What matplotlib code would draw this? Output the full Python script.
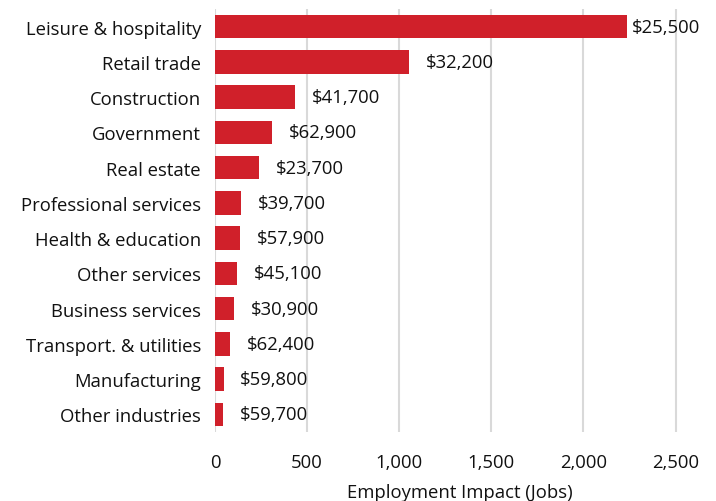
import matplotlib
matplotlib.use('Agg')
import matplotlib.pyplot as plt
from matplotlib.ticker import FuncFormatter

plt.rcParams['font.family'] = ['Open Sans', 'DejaVu Sans']

# Data
industries = ['Leisure & hospitality', 'Retail trade', 'Construction', 'Government',
              'Real estate', 'Professional services', 'Health & education',
              'Other services', 'Business services', 'Transport. & utilities',
              'Manufacturing', 'Other industries']
jobs = [2234, 1052, 435, 312, 241, 143, 138, 118, 103, 83, 47, 43]
wages = ['$25,500', '$32,200', '$41,700', '$62,900', '$23,700', '$39,700',
         '$57,900', '$45,100', '$30,900', '$62,400', '$59,800', '$59,700']

red = '#d0202a'
fs = 13.3

fig = plt.figure(figsize=(7.16, 5.02), dpi=100)
ax = fig.add_axes([215 / 716, 1 - 433 / 502, 490 / 716, 423 / 502])

ypos = list(range(len(industries)))
ax.barh(ypos, jobs, height=0.67, color=red, zorder=3)

for i, (v, w) in enumerate(zip(jobs, wages)):
    off = 3.5 if i == 0 else 12
    ax.annotate(w, xy=(v, i), xytext=(off, 0), textcoords='offset points',
                va='center', ha='left', fontsize=fs, color='#111111')

ax.set_ylim(len(industries) - 0.5, -0.5)
ax.set_xlim(0, 2660)
ax.set_yticks(ypos)
ax.set_yticklabels(industries, fontsize=fs, color='#111111')
ax.set_xticks([0, 500, 1000, 1500, 2000, 2500])
ax.xaxis.set_major_formatter(FuncFormatter(lambda x, p: f'{int(x):,}'))
ax.tick_params(axis='x', labelsize=fs, colors='#111111', length=0, pad=15)
ax.tick_params(axis='y', length=0, pad=10)
ax.set_xlabel('Employment Impact (Jobs)', fontsize=fs, color='#111111', labelpad=9)

ax.grid(axis='x', color='#d9d9d9', linewidth=1.5, zorder=0)
for s in ax.spines.values():
    s.set_visible(False)

fig.savefig('out.png', dpi=100)
